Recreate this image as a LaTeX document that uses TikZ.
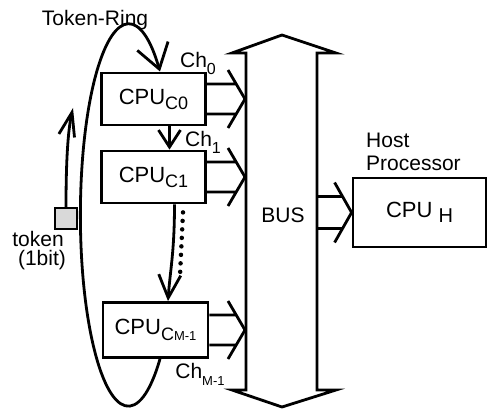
\documentclass[tikz,border=0pt]{standalone}
\usepackage{fontspec}
\setmainfont{Liberation Sans}
\usetikzlibrary{arrows.meta, calc}

\newcommand{\lowsub}[3]{\raisebox{-#3}{\fontsize{#2}{#2}\selectfont #1}}

\begin{document}
\begin{tikzpicture}[x=1pt, y=1pt,
    cpu/.style={draw, line width=2.8pt, minimum width=104pt, minimum height=52pt, inner sep=0pt, font=\fontsize{22}{24}\selectfont},
    lbl/.style={inner sep=0pt, font=\fontsize{21}{19}\selectfont},
    ln/.style={line width=2.8pt},
    ring/.style={line width=2.8pt, -{Straight Barb[length=24pt, width=32pt]}},
    tip/.style={line width=2.8pt, -{Straight Barb[length=17pt, width=22pt]}}
]
    \useasboundingbox (0,0) rectangle (487,-409);

    % processors on the ring
    \node[cpu] (c0) at (153.5,-99) {CPU\lowsub{C0}{18}{5pt}};
    \node[cpu] (c1) at (153.5,-177) {CPU\lowsub{C1}{18}{5pt}};
    \node[cpu, minimum width=105pt, minimum height=55pt] (cm) at (155.5,-330) {CPU\lowsub{C\lowsub{M-1}{13}{0pt}}{18}{6pt}};
    \node[draw, line width=2.8pt, minimum width=133pt, minimum height=69pt, inner sep=0pt,
          font=\fontsize{22}{24}\selectfont] (host) at (419.5,-212.5) {CPU \lowsub{H}{20}{5pt}};

    % labels
    \node[lbl] (ringlbl) at (95,-20) {Token-Ring};
    \node[lbl] (ch0) at (198,-63) {Ch\lowsub{0}{16}{7pt}};
    \node[lbl] (ch1) at (203,-142) {Ch\lowsub{1}{16}{7pt}};
    \node[lbl] (chm) at (200,-374) {Ch\lowsub{M-1}{13}{7pt}};
    \node[lbl, anchor=north west, align=left, font=\fontsize{21}{23}\selectfont] (hostlbl) at (366,-133) {Host\\Processor};
    \node[lbl, anchor=north, align=center] (toklbl) at (38,-231) {token\\\hspace*{8pt}(1bit)};
    \node[lbl] (bus) at (283,-215) {BUS};

    % bus
    \coordinate (busL) at (245,0);
    \coordinate (busR) at (318,0);
    \draw[ln] (232,-53) -- (282,-35) -- (336,-53) -- (317,-53) -- (317,-390) -- (336,-390)
        -- (282,-407) -- (232,-390) -- (246,-390) -- (246,-53) -- cycle;

    % channels to the bus
    \foreach \nd in {c0,c1,cm}
        \draw[ln] let \p1=(\nd.east), \p2=(busL) in
            (\x1,\y1+15pt) -- (\x2-9pt,\y1+15pt)
            (\x1,\y1-15pt) -- (\x2-9pt,\y1-15pt)
            (\x2-17pt,\y1+29pt) -- (\x2,\y1) -- (\x2-17pt,\y1-29pt);
    \draw[ln] let \p1=(busR |- host.west), \p2=(host.west) in
        (\x1,\y1+16pt) -- (\x2-9pt,\y1+16pt)
        (\x1,\y1-16pt) -- (\x2-9pt,\y1-16pt)
        (\x2-17pt,\y1+30pt) -- (\x2,\y1) -- (\x2-17pt,\y1-30pt);

    % token ring
    \draw[ring] ($(cm.south)+(4.5,0)$) arc[start angle=-48.8, end angle=-311.2, x radius=48, y radius=191];
    \draw[tip] ($(c0.south)+(16,0)$) -- ($(c1.north)+(16,0)$);
    \draw[tip, -{Straight Barb[length=23pt, width=22pt]}] ($(c1.south)+(21,0)$)
        .. controls +(0,-48) and +(2,30) .. ($(cm.north)+(12.5,0)$);
    \draw[line width=4.5pt, line cap=round, dash pattern=on 0pt off 8.5pt]
        ($(c1.south)+(29.5,-8)$) -- ($(c1.south)+(26.5,-71)$);

    % token
    \node[draw, line width=1.8pt, fill=black!15, minimum width=22pt, minimum height=21pt, inner sep=0pt] (tok) at (66,-218.5) {};
    \coordinate (tokhead) at (73,-108);
    \draw[tip, -{Straight Barb[length=24pt, width=16pt]}] (tok.north)
        .. controls (66,-160) and (68,-130) .. (tokhead);
\end{tikzpicture}
\end{document}
